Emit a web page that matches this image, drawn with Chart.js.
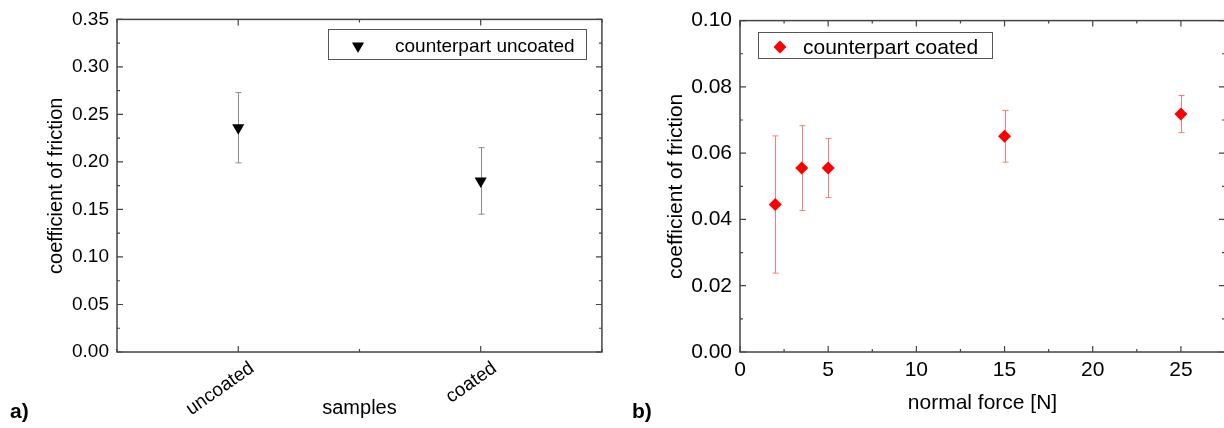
<!DOCTYPE html>
<html lang="en">
<head>
<meta charset="UTF-8">
<script src="https://cdn.jsdelivr.net/npm/chart.js@4.4.0/dist/chart.umd.min.js"></script>
<title>coefficient of friction</title>
<style>
  html, body { margin: 0; padding: 0; background: #fff; overflow: hidden; width: 1224px; height: 428px; }
  canvas { position: absolute; top: 0; }
  #chartA { left: 0; }
  #chartB { left: 620px; }
  .tag { position: absolute; font: bold 21px "Liberation Sans", Arial, sans-serif; color: #000; }
</style>
</head>
<body>
<canvas id="chartA" width="620" height="428"></canvas>
<canvas id="chartB" width="620" height="428"></canvas>
<div class="tag" style="left:10px; top:399px;">a)</div>
<div class="tag" style="left:632px; top:399px;">b)</div>
<script>
// panel a) - samples
var samplePos = [1, 2];
var sampleNames = ['uncoated', 'coated'];
var cofUncoatedCp = [0.236, 0.180];
var errUncoatedCp = [0.037, 0.035];

// panel b) - normal force
var forceN = [2, 3.5, 5, 15, 25];
var cofCoatedCp = [0.0445, 0.0555, 0.0555, 0.0651, 0.0718];
var errCoatedCp = [0.0207, 0.0128, 0.0089, 0.0078, 0.0056];

var FONT = '"Liberation Sans", Arial, sans-serif';
var FRAME = '#444';

// error bars, drawn under the markers
var errorBars = {
  id: 'errorBars',
  beforeDatasetsDraw: function(chart) {
    var c = chart.ctx, x = chart.scales.x, y = chart.scales.y;
    chart.data.datasets.forEach(function(ds) {
      if (!ds.err) return;
      c.save();
      c.strokeStyle = ds.errColor;
      c.lineWidth = 1;
      ds.data.forEach(function(p, i) {
        var px = Math.round(x.getPixelForValue(p.x)) + 0.5;
        var top = y.getPixelForValue(p.y + ds.err[i]);
        var bot = y.getPixelForValue(p.y - ds.err[i]);
        c.beginPath();
        c.moveTo(px, top); c.lineTo(px, bot);
        c.moveTo(px - 3, top); c.lineTo(px + 3, top);
        c.moveTo(px - 3, bot); c.lineTo(px + 3, bot);
        c.stroke();
      });
      c.restore();
    });
  }
};

// box frame with inward ticks on all four sides
var frameTicks = {
  id: 'frameTicks',
  afterDraw: function(chart) {
    var c = chart.ctx, a = chart.chartArea, x = chart.scales.x, y = chart.scales.y;
    c.save();
    c.strokeStyle = FRAME;
    c.lineWidth = 1.5;
    c.strokeRect(a.left, a.top, a.right - a.left, a.bottom - a.top);
    c.lineWidth = 1.2;
    c.beginPath();
    x.ticks.forEach(function(t) {
      var px = x.getPixelForValue(t.value);
      var len = t.label !== '' ? 6 : 3;
      c.moveTo(px, a.bottom); c.lineTo(px, a.bottom - len);
      c.moveTo(px, a.top); c.lineTo(px, a.top + len);
    });
    y.ticks.forEach(function(t) {
      var py = y.getPixelForValue(t.value);
      var len = t.label !== '' ? 6 : 3;
      c.moveTo(a.left, py); c.lineTo(a.left + len, py);
      c.moveTo(a.right, py); c.lineTo(a.right - len, py);
    });
    c.stroke();
    c.restore();
  }
};

// boxed legend inside the plot
var boxLegend = {
  id: 'boxLegend',
  afterDraw: function(chart, args, o) {
    var c = chart.ctx, ds = chart.data.datasets[0];
    c.save();
    c.strokeStyle = '#555';
    c.lineWidth = 1;
    c.strokeRect(o.x + 0.5, o.y + 0.5, o.w, o.h);
    c.fillStyle = ds.backgroundColor;
    c.strokeStyle = ds.borderColor;
    Chart.helpers.drawPoint(c, { pointStyle: ds.pointStyle, rotation: ds.rotation || 0, radius: ds.pointRadius, borderWidth: 0 }, o.mx, o.my);
    c.fillStyle = '#000';
    c.font = o.size + 'px ' + FONT;
    c.textBaseline = 'middle';
    c.fillText(ds.label, o.tx, o.my + 1);
    c.restore();
  }
};

Chart.register(errorBars, frameTicks);

function pts(xs, ys) {
  return xs.map(function(v, i) { return { x: v, y: ys[i] }; });
}

new Chart(document.getElementById('chartA'), {
  type: 'scatter',
  plugins: [boxLegend],
  data: {
    datasets: [{
      label: 'counterpart uncoated',
      data: pts(samplePos, cofUncoatedCp),
      err: errUncoatedCp,
      errColor: '#8a8a8a',
      pointStyle: 'triangle',
      rotation: 180,
      pointRadius: 7,
      pointHoverRadius: 7,
      backgroundColor: '#000',
      borderColor: '#000',
      borderWidth: 0
    }]
  },
  options: {
    responsive: false,
    animation: false,
    events: [],
    layout: { padding: { left: 40, top: 19, right: 13, bottom: 0 } },
    plugins: {
      legend: { display: false },
      tooltip: { enabled: false },
      boxLegend: { x: 328, y: 29, w: 258, h: 30, mx: 358, my: 46, tx: 395, size: 19 }
    },
    scales: {
      x: {
        type: 'linear', min: 0.5, max: 2.5,
        grid: { display: false, drawTicks: false }, border: { display: false },
        afterFit: function(s) { s.height = 76; },
        ticks: {
          stepSize: 0.5, autoSkip: false, minRotation: 35, maxRotation: 35,
          labelOffset: 14, padding: 5, color: '#000', font: { family: FONT, size: 19 },
          callback: function(v) { var i = samplePos.indexOf(v); return i >= 0 ? sampleNames[i] : ''; }
        },
        title: { display: true, text: 'samples', color: '#000', font: { family: FONT, size: 20 }, padding: { top: 4, bottom: 8 } }
      },
      y: {
        min: 0, max: 0.35,
        grid: { display: false, drawTicks: false }, border: { display: false },
        afterFit: function(s) { s.width = 77; },
        ticks: {
          stepSize: 0.025, autoSkip: false, padding: 8, color: '#000', font: { family: FONT, size: 19 },
          callback: function(v) { return Math.round(v * 1000) % 50 === 0 ? v.toFixed(2) : ''; }
        },
        title: { display: true, text: 'coefficient of friction', color: '#000', font: { family: FONT, size: 20 } }
      }
    }
  }
});

new Chart(document.getElementById('chartB'), {
  type: 'scatter',
  plugins: [boxLegend],
  data: {
    datasets: [{
      label: 'counterpart coated',
      data: pts(forceN, cofCoatedCp),
      err: errCoatedCp,
      errColor: '#ff7a7a',
      pointStyle: 'rectRot',
      pointRadius: 6.5,
      pointHoverRadius: 6.5,
      backgroundColor: '#ff0000',
      borderColor: '#ff0000',
      borderWidth: 0
    }]
  },
  options: {
    responsive: false,
    animation: false,
    events: [],
    layout: { padding: { left: 40, top: 19, right: 15, bottom: 0 } },
    plugins: {
      legend: { display: false },
      tooltip: { enabled: false },
      boxLegend: { x: 138, y: 32, w: 234, h: 26, mx: 160, my: 47, tx: 183, size: 21 }
    },
    scales: {
      x: {
        type: 'linear', min: 0, max: 27.5,
        grid: { display: false, drawTicks: false }, border: { display: false },
        afterFit: function(s) { s.height = 76; },
        ticks: {
          stepSize: 2.5, autoSkip: false, maxRotation: 0, padding: 6, color: '#000', font: { family: FONT, size: 21 },
          callback: function(v) { return v % 5 === 0 ? String(v) : ''; }
        },
        title: { display: true, text: 'normal force [N]', color: '#000', font: { family: FONT, size: 21 }, padding: { top: 4, bottom: 12 } }
      },
      y: {
        min: 0, max: 0.1,
        grid: { display: false, drawTicks: false }, border: { display: false },
        afterFit: function(s) { s.width = 80; },
        ticks: {
          stepSize: 0.01, autoSkip: false, padding: 8, color: '#000', font: { family: FONT, size: 21 },
          callback: function(v) { return Math.round(v * 100) % 2 === 0 ? v.toFixed(2) : ''; }
        },
        title: { display: true, text: 'coefficient of friction', color: '#000', font: { family: FONT, size: 21 } }
      }
    }
  }
});
</script>
</body>
</html>
